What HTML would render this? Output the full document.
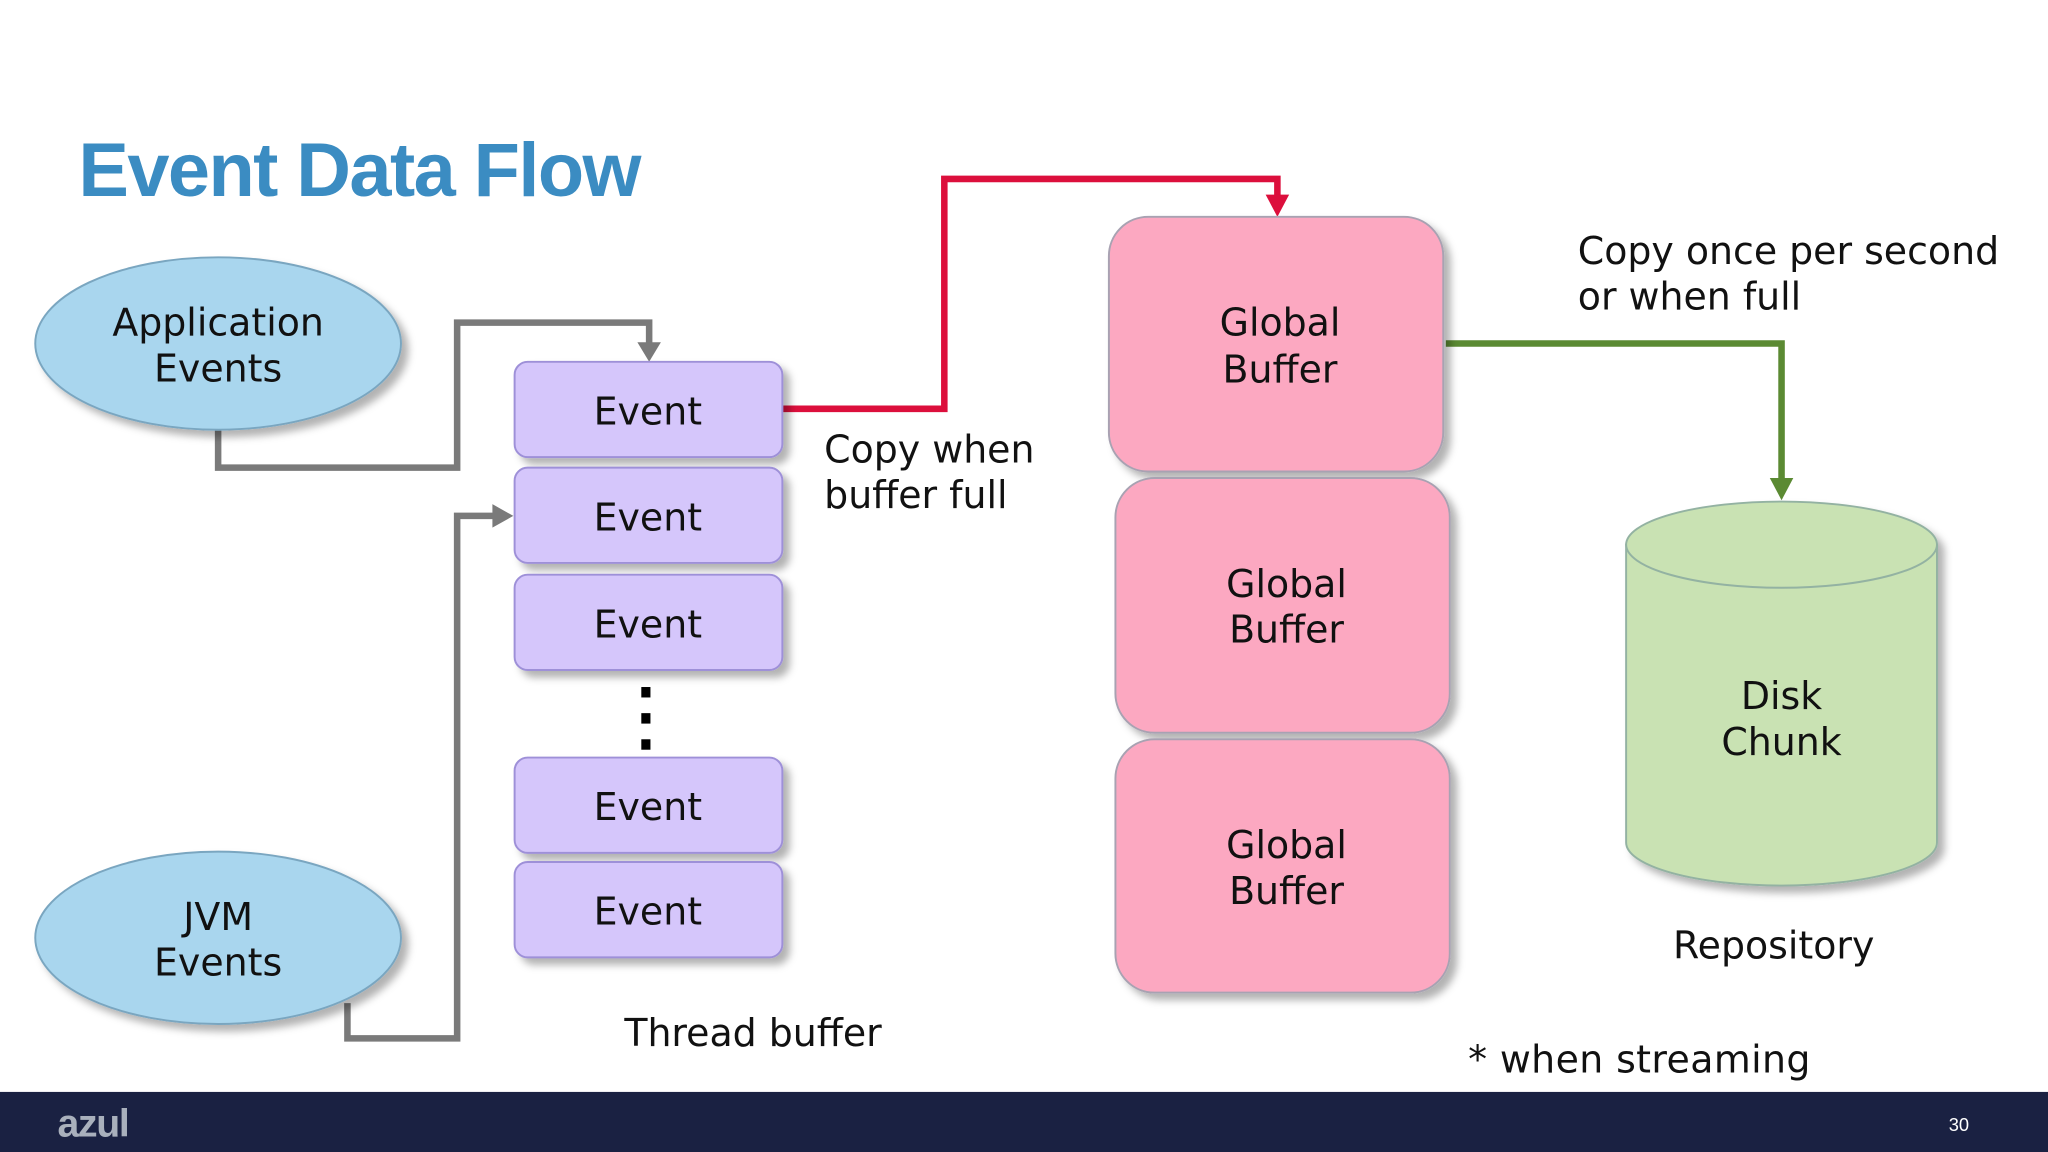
<!DOCTYPE html>
<html><head><meta charset="utf-8"><style>
html,body{margin:0;padding:0;background:#fff;}
svg{display:block;}
text{font-family:"DejaVu Sans","Liberation Sans",sans-serif;fill:#111;}
</style></head><body>
<svg width="2048" height="1152" viewBox="0 0 1568 882" xmlns="http://www.w3.org/2000/svg">
<defs>
<filter id="sh" x="-20%" y="-20%" width="150%" height="150%">
<feDropShadow dx="5" dy="5" stdDeviation="3" flood-color="#000" flood-opacity="0.3"/>
</filter>
</defs>
<rect width="1568" height="882" fill="#fff"/>
<text x="60" y="150" font-size="58" font-weight="bold" style="fill:#3b8cc2;font-family:'Liberation Sans',sans-serif;letter-spacing:-1.2px">Event Data Flow</text>

<g fill="none" stroke="#7a7a7a" stroke-width="5">
<polyline points="167,329 167,358 350,358 350,247 497,247 497,264"/>
<polyline points="266,768 266,795 350,795 350,395 380,395"/>
</g>
<polygon points="488,262 506,262 497,277" fill="#7a7a7a"/>
<polygon points="377,386 377,404 393,395" fill="#7a7a7a"/>
<polyline points="599,313 723,313 723,137 978,137 978,152" fill="none" stroke="#dc0f3c" stroke-width="5"/>
<polygon points="969,149 987,149 978,166" fill="#dc0f3c"/>
<polyline points="1107,263 1364,263 1364,368" fill="none" stroke="#5b8a33" stroke-width="5"/>
<polygon points="1355,366 1373,366 1364,383" fill="#5b8a33"/>

<g filter="url(#sh)" fill="#a9d6ee" stroke="#7aa6c0" stroke-width="1.5">
<ellipse cx="167" cy="263" rx="140" ry="66"/>
<ellipse cx="167" cy="718" rx="140" ry="66"/>
</g>
<g font-size="29" text-anchor="middle">
<text x="167" y="257">Application</text><text x="167" y="292">Events</text>
<text x="167" y="712">JVM</text><text x="167" y="747">Events</text>
</g>

<g filter="url(#sh)" fill="#d5c6fb" stroke="#9e90d8" stroke-width="1.5">
<rect x="394" y="277" width="205" height="73" rx="10"/>
<rect x="394" y="358" width="205" height="73" rx="10"/>
<rect x="394" y="440" width="205" height="73" rx="10"/>
<rect x="394" y="580" width="205" height="73" rx="10"/>
<rect x="394" y="660" width="205" height="73" rx="10"/>
</g>
<g font-size="29" text-anchor="middle">
<text x="496" y="325">Event</text>
<text x="496" y="406">Event</text>
<text x="496" y="488">Event</text>
<text x="496" y="628">Event</text>
<text x="496" y="708">Event</text>
</g>
<g fill="#000"><rect x="491" y="526" width="7" height="8"/><rect x="491" y="546" width="7" height="8"/><rect x="491" y="566" width="7" height="8"/></g>

<g filter="url(#sh)" fill="#fca8c1" stroke="#a8a2b2" stroke-width="1.5">
<rect x="849" y="166" width="256" height="195" rx="30"/>
<rect x="854" y="366" width="256" height="195" rx="30"/>
<rect x="854" y="566" width="256" height="194" rx="30"/>
</g>
<g font-size="29" text-anchor="middle">
<text x="980" y="257">Global</text><text x="980" y="293">Buffer</text>
<text x="985" y="457">Global</text><text x="985" y="492">Buffer</text>
<text x="985" y="657">Global</text><text x="985" y="692">Buffer</text>
</g>

<g filter="url(#sh)">
<path d="M1245,417 L1245,645 A119,33 0 0 0 1483,645 L1483,417 Z" fill="#c9e2b3" stroke="#93b2a2" stroke-width="1.5"/>
<ellipse cx="1364" cy="417" rx="119" ry="33" fill="#c9e2b3" stroke="#93b2a2" stroke-width="1.5"/>
</g>
<g font-size="29" text-anchor="middle">
<text x="1364" y="543">Disk</text><text x="1364" y="578">Chunk</text>
<text x="1358" y="734">Repository</text>
</g>

<g font-size="29">
<text x="631" y="354">Copy when</text><text x="631" y="389">buffer full</text>
<text x="1208" y="202">Copy once per second</text><text x="1208" y="237">or when full</text>
<text x="478" y="801">Thread buffer</text>
<text x="1124" y="821" style="letter-spacing:0.3px">* when streaming</text>
</g>

<rect x="0" y="836" width="1568" height="46" fill="#1a2142"/>
<text x="44" y="870" font-size="30" font-weight="bold" style="fill:#a9b0bc;font-family:'Liberation Sans',sans-serif;letter-spacing:-1px">azul</text>
<text x="1492" y="866" font-size="14" style="fill:#fff;font-family:'Liberation Sans',sans-serif">30</text>
</svg>
</body></html>
